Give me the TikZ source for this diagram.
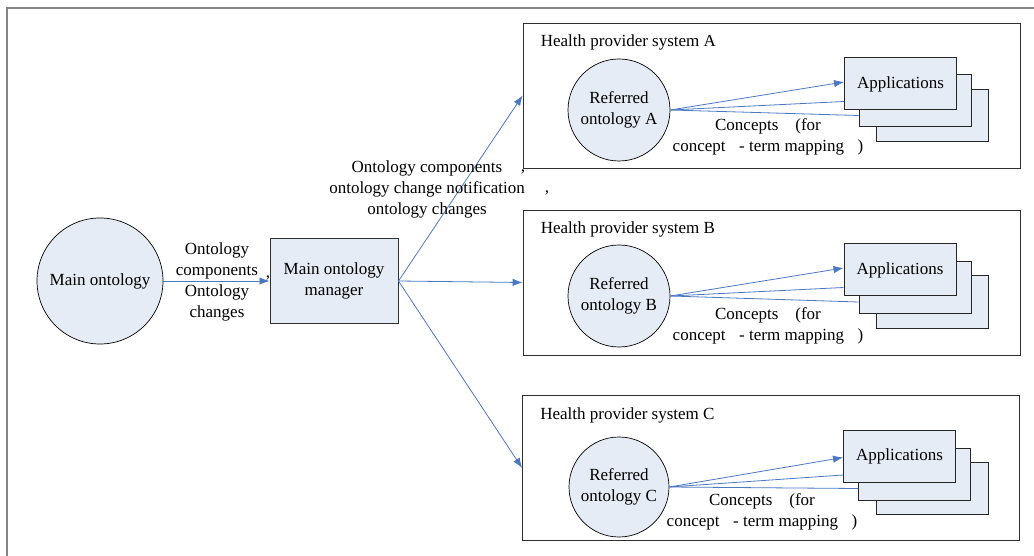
\documentclass[tikz,border=0pt]{standalone}
\usepackage{fontspec}
\setmainfont{Liberation Serif}
\usetikzlibrary{arrows.meta,positioning,calc}
\definecolor{OntoFill}{HTML}{E6ECF6}
\definecolor{LinkBlue}{HTML}{4A78C2}
\definecolor{FrameGray}{HTML}{858585}
\definecolor{BoxLine}{HTML}{303030}
\tikzset{
  onto/.style={circle, draw=black, fill=OntoFill, line width=0.7pt, align=center, inner sep=0pt},
  mgr/.style={rectangle, draw=BoxLine, fill=OntoFill, line width=1pt, align=center,
              minimum width=128pt, minimum height=84pt},
  sysbox/.style={rectangle, draw=BoxLine, line width=0.8pt, minimum width=497pt, minimum height=145pt},
  appbox/.style={rectangle, draw=black!85, fill=OntoFill, line width=1pt,
                 minimum width=112pt, minimum height=52pt},
  link/.style={-{Latex[length=10pt,width=7.5pt]}, draw=LinkBlue, line width=0.8pt},
  feed/.style={draw=LinkBlue, line width=0.8pt},
  lbl/.style={align=center, inner sep=0pt},
}
\begin{document}
\begin{tikzpicture}[x=1pt,y=-1pt,font=\fontsize{17}{21}\selectfont]
    \useasboundingbox (0,0) rectangle (1034,556);
    \draw[FrameGray, line width=2pt] (7,556) -- (7,8) -- (1034,8);
    % main side
    \node[onto,minimum size=126pt] (mainonto) at (100,281) {Main ontology};
    \node[mgr] (manager) at (334,281) {Main ontology\\manager};
    \draw[link] (mainonto) -- (manager);
    \node[lbl] (mainlbl) at (217,281.5) {Ontology\\components\\Ontology\\changes};
    \node[lbl] (comma1) at (268,278) {,};
    % health provider systems
    \node[sysbox] (sysA) at (771.5,95.5) {};
    \node[sysbox] (sysB) at (771.5,282.5) {};
    \node[sysbox] (sysC) at (771,468) {};
    \node[anchor=west,inner sep=0pt] (titleA) at ([xshift=18pt,yshift=-20pt]sysA.north west) {Health provider system A};
    \node[anchor=west,inner sep=0pt] (titleB) at ([xshift=18pt,yshift=-20pt]sysB.north west) {Health provider system B};
    \node[anchor=west,inner sep=0pt] (titleC) at ([xshift=18pt,yshift=-20pt]sysC.north west) {Health provider system C};
    \draw[link] (manager.east) -- (sysA.west);
    \draw[link] (manager.east) -- (sysB.west);
    \draw[link] (manager.east) -- (sysC.west);
    \node[lbl] (distlbl) at (427,189) {Ontology components\\ontology change notification\\ontology changes};
    \node[lbl] (comma2) at (523,172) {,};
    \node[lbl] (comma3) at (547,193) {,};
    % system A
    \node[onto,minimum size=102pt] (refA) at (619,110) {Referred\\ontology A};
    \node[appbox] (appA3) at (932.5,115.5) {};
    \node[appbox] (appA2) at (915,101) {};
    \node[appbox] (appA1) at (900.5,84) {Applications};
    \draw[link] (refA.east) -- ([yshift=2pt]appA1.west);
    \draw[feed] (refA.east) -- ([yshift=9pt]appA1.south west);
    \draw[feed] (refA.east) -- ([yshift=12pt]appA2.south west);
    \node[lbl] (mapA) at (768,137) {Concepts\hspace*{1em}(for\\concept\hspace*{0.8em}- term mapping\hspace*{0.8em})};
    % system B
    \node[onto,minimum size=102pt] (refB) at (619,296) {Referred\\ontology B};
    \node[appbox] (appB3) at (932.5,302) {};
    \node[appbox] (appB2) at (915,287.5) {};
    \node[appbox] (appB1) at (900,270) {Applications};
    \draw[link] (refB.east) -- ([yshift=2pt]appB1.west);
    \draw[feed] (refB.east) -- ([yshift=9pt]appB1.south west);
    \draw[feed] (refB.east) -- ([yshift=12pt]appB2.south west);
    \node[lbl] (mapB) at (768,326) {Concepts\hspace*{1em}(for\\concept\hspace*{0.8em}- term mapping\hspace*{0.8em})};
    % system C
    \node[onto,minimum size=100pt] (refC) at (619,487) {Referred\\ontology C};
    \node[appbox] (appC3) at (932,488) {};
    \node[appbox] (appC2) at (914.5,474) {};
    \node[appbox] (appC1) at (899.5,456.5) {Applications};
    \draw[link] (refC.east) -- ([yshift=-1pt]appC1.west);
    \draw[feed] (refC.east) -- ([yshift=8pt]appC1.south west);
    \draw[feed] (refC.east) -- ([yshift=12pt]appC2.south west);
    \node[lbl] (mapC) at (762,512) {Concepts\hspace*{1em}(for\\concept\hspace*{0.8em}- term mapping\hspace*{0.8em})};
\end{tikzpicture}
\end{document}
